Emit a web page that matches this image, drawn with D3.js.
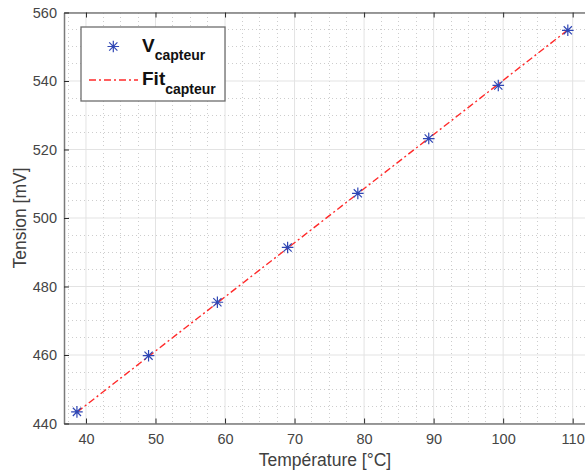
<!DOCTYPE html>
<html>
<head>
<meta charset="utf-8">
<script src="https://cdn.jsdelivr.net/npm/d3@7"></script>
<style>
html,body{margin:0;padding:0;background:#fff;}
svg{display:block;font-family:"Liberation Sans",Arial,Helvetica,sans-serif;}
</style>
</head>
<body>
<svg id="chart" width="585" height="476"></svg>
<script>
const temperature = [38.7, 49.0, 58.9, 69.0, 79.1, 89.3, 99.3, 109.3];
const voltage = [443.4, 459.8, 475.4, 491.4, 507.2, 523.2, 538.7, 554.8];
const fitTemperature = [38.7, 109.3];
const fitVoltage = [443.3, 554.9];
const xTicks = [40, 50, 60, 70, 80, 90, 100, 110];
const yTicks = [440, 460, 480, 500, 520, 540, 560];
const xLimits = [36.84, 112];
const yLimits = [440, 560];
const legendLabels = [["V", "capteur"], ["Fit", "capteur"]];

const svg = d3.select("#chart");
const L = 64, T = 12.5, B = 423.5;
const R = L + (xLimits[1] - xLimits[0]) * 6.953;
const x = d3.scaleLinear().domain(xLimits).range([L, R]);
const y = d3.scaleLinear().domain(yLimits).range([B, T]);

const plot = svg.append("g");
svg.append("defs").append("clipPath").attr("id","clip")
  .append("rect").attr("x", L).attr("y", T).attr("width", R - L).attr("height", B - T);

// minor grid
const xMinor = d3.range(37.5, 112, 2.5).filter(v => xTicks.indexOf(v) < 0);
const yMinor = d3.range(445, 560, 5).filter(v => yTicks.indexOf(v) < 0);
plot.append("g").selectAll("line").data(xMinor).join("line")
  .attr("x1", d => x(d)).attr("x2", d => x(d)).attr("y1", T).attr("y2", B)
  .attr("stroke", "#cdcdcd").attr("stroke-width", 1).attr("stroke-dasharray", "1,3")
  .attr("shape-rendering", "crispEdges");
plot.append("g").selectAll("line").data(yMinor).join("line")
  .attr("y1", d => y(d)).attr("y2", d => y(d)).attr("x1", L).attr("x2", R)
  .attr("stroke", "#cdcdcd").attr("stroke-width", 1).attr("stroke-dasharray", "1,3")
  .attr("shape-rendering", "crispEdges");
// major grid
plot.append("g").selectAll("line").data(xTicks).join("line")
  .attr("x1", d => x(d)).attr("x2", d => x(d)).attr("y1", T).attr("y2", B)
  .attr("stroke", "#e3e3e3").attr("stroke-width", 1);
plot.append("g").selectAll("line").data(yTicks).join("line")
  .attr("y1", d => y(d)).attr("y2", d => y(d)).attr("x1", L).attr("x2", R)
  .attr("stroke", "#e3e3e3").attr("stroke-width", 1);

// axes
const axColor = "#7a7a7a";
const xAxisB = d3.axisBottom(x).tickValues(xTicks).tickSizeInner(-5).tickSizeOuter(0).tickPadding(10);
const gxb = svg.append("g").attr("transform", `translate(0,${B})`).call(xAxisB);
const xAxisT = d3.axisTop(x).tickValues(xTicks).tickSizeInner(-5).tickSizeOuter(0).tickFormat("");
const gxt = svg.append("g").attr("transform", `translate(0,${T})`).call(xAxisT);
const yAxisL = d3.axisLeft(y).tickValues(yTicks).tickSizeInner(-5).tickSizeOuter(0).tickPadding(7);
const gyl = svg.append("g").attr("transform", `translate(${L},0)`).call(yAxisL);
[gxb, gxt, gyl].forEach(g => {
  g.select(".domain").attr("stroke", axColor).attr("stroke-width", 1.5);
  g.selectAll(".tick line").attr("stroke", "#2a2a2a").attr("stroke-width", 1);
  g.selectAll(".tick text").attr("fill", "#454545").style("font-size", "14.5px")
    .style("font-family", "'Liberation Sans',Arial,sans-serif");
});

// fit line
const fitData = fitTemperature.map((t, i) => [t, fitVoltage[i]]);
const lineGen = d3.line().x(d => x(d[0])).y(d => y(d[1]));
svg.append("path").datum(fitData).attr("clip-path", "url(#clip)")
  .attr("d", lineGen).attr("fill", "none").attr("stroke", "#ff2a2a")
  .attr("stroke-width", 1.4).attr("stroke-dasharray", "7,3,2,3");

// asterisk markers
function asterisk(cx, cy, r) {
  const d = r * Math.SQRT1_2;
  return `M${cx - r},${cy}L${cx + r},${cy}M${cx},${cy - r}L${cx},${cy + r}` +
    `M${cx - d},${cy - d}L${cx + d},${cy + d}M${cx - d},${cy + d}L${cx + d},${cy - d}`;
}
const pts = temperature.map((t, i) => [t, voltage[i]]);
svg.append("g").selectAll("path").data(pts).join("path")
  .attr("d", d => asterisk(x(d[0]), y(d[1]), 5.8))
  .attr("fill", "none").attr("stroke", "#2f46b4").attr("stroke-width", 1.2);

// axis labels
svg.append("text").attr("x", 325).attr("y", 466).attr("text-anchor", "middle")
  .attr("fill", "#404040").style("font-size", "17.5px").text("Température [°C]");
svg.append("text").attr("transform", `translate(26,${(T + B) / 2}) rotate(-90)`)
  .attr("text-anchor", "middle").attr("fill", "#404040").style("font-size", "17.5px").text("Tension [mV]");

// legend
const lg = svg.append("g");
lg.append("rect").attr("x", 81).attr("y", 27).attr("width", 144).attr("height", 74)
  .attr("fill", "#fff").attr("stroke", "#6e6e6e").attr("stroke-width", 1.3);
lg.append("path").attr("d", asterisk(113.3, 46.5, 5.8))
  .attr("fill", "none").attr("stroke", "#2f46b4").attr("stroke-width", 1.2);
lg.append("line").attr("x1", 89).attr("x2", 138).attr("y1", 80).attr("y2", 80)
  .attr("stroke", "#ff2a2a").attr("stroke-width", 1.4).attr("stroke-dasharray", "7,3,2,3");
const baseY = [51.5, 85];
legendLabels.forEach((lab, i) => {
  const t = lg.append("text").attr("x", 142).attr("y", baseY[i]).attr("fill", "#111")
    .style("font-weight", "bold");
  t.append("tspan").style("font-size", "19px").text(lab[0]);
  t.append("tspan").attr("dy", 8.5).style("font-size", "14px").text(lab[1]);
});
</script>
</body>
</html>
